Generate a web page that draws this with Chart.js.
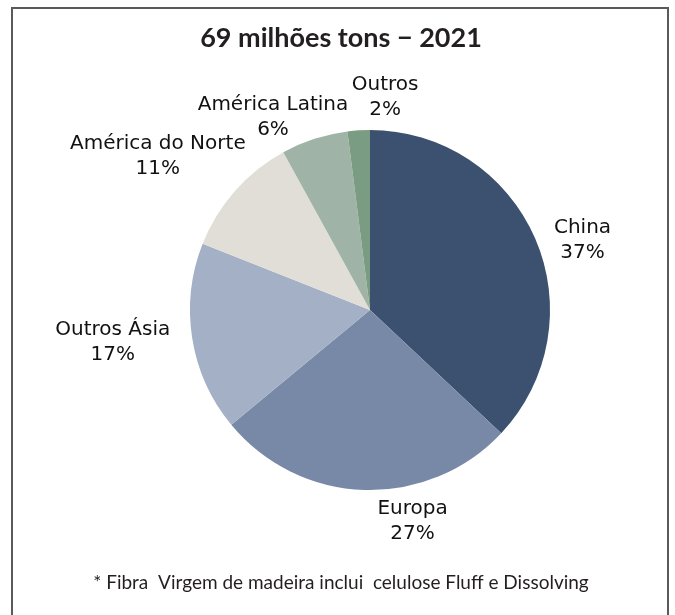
<!DOCTYPE html>
<html>
<head>
<meta charset="utf-8">
<script src="https://cdn.jsdelivr.net/npm/chart.js@4/dist/chart.umd.min.js"></script>
<style>
    body { margin: 0; background: #fff; }
    #wrap { position: relative; width: 675px; height: 615px; }
    #frame {
        position: absolute; left: 11px; top: 7px; width: 654px; height: 620px;
        border: 2px solid #5a5a5a; border-bottom: none; pointer-events: none;
    }
    canvas { position: absolute; left: 0; top: 0; }
</style>
</head>
<body>
<div id="wrap">
    <canvas id="myPieChart" width="675" height="615"></canvas>
    <div id="frame"></div>
</div>
<script>
// regions and share of the total (%)
const regions = ['China', 'Europa', 'Outros Ásia', 'América do Norte', 'América Latina', 'Outros'],
    shares = [37, 27, 17, 11, 6, 2];

const sliceColors = ['#3b516f', '#7889a8', '#a4b0c5', '#e1ded7', '#9fb4a6', '#799c82'];

const title_text = '69 milhões tons \u2212 2021',
    footnote_text = '* Fibra  Virgem de madeira inclui  celulose Fluff e Dissolving';

// small nudges so the labels sit where the original put them
const labelNudge = [[0, 14], [50, 0], [0, -1], [6, -14], [-11, 8], [30, -2]];

const ctx = document.getElementById('myPieChart').getContext('2d');

// draws the title, footnote and the outside labels of each slice
const textPlugin = {
    id: 'textPlugin',
    afterDraw(chart) {
        const c = chart.ctx;
        c.save();
        c.textAlign = 'center';
        c.textBaseline = 'middle';

        c.fillStyle = '#231f20';
        c.font = 'bold 27px Lato';
        c.fillText(title_text, 341, 38);

        c.font = '19px Lato';
        c.fillText(footnote_text, 341, 583);

        c.font = '20px "DejaVu Sans"';
        c.fillStyle = '#111';
        const arcs = chart.getDatasetMeta(0).data;
        arcs.forEach((arc, i) => {
            const mid = (arc.startAngle + arc.endAngle) / 2,
                dx = Math.cos(mid),
                dy = Math.sin(mid);
            const lines = [regions[i], shares[i] + '%'];
            const w = Math.max(...lines.map(l => c.measureText(l).width)),
                h = 50;
            const r = arc.outerRadius + 6;
            const cx = arc.x + dx * r + dx * (w / 2 + 17) + labelNudge[i][0],
                cy = arc.y + dy * r + dy * (h / 2) + labelNudge[i][1];
            c.fillText(lines[0], cx, cy - 12.5);
            c.fillText(lines[1], cx, cy + 12.5);
        });
        c.restore();
    }
};

new Chart(ctx, {
    type: 'pie',
    data: {
        labels: regions,
        datasets: [{
            data: shares,
            backgroundColor: sliceColors,
            borderWidth: 0
        }]
    },
    options: {
        responsive: false,
        animation: false,
        layout: {
            padding: { left: 190, right: 125, top: 130, bottom: 125 }
        },
        plugins: {
            legend: { display: false },
            tooltip: { enabled: false },
            title: { display: false }
        }
    },
    plugins: [textPlugin]
});
</script>
</body>
</html>
